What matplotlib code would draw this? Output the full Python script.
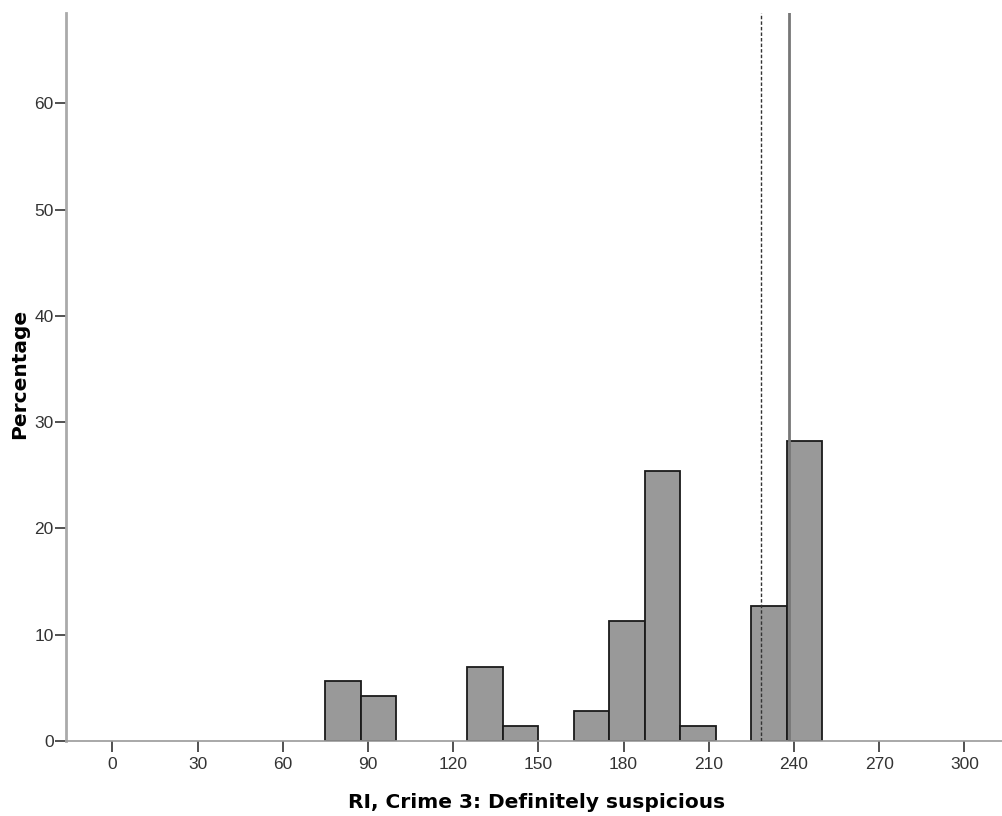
import matplotlib
matplotlib.use("Agg")
import matplotlib.pyplot as plt

# Histogram data (percent of cases per bin of 12.5)
bin_left = [75, 87.5, 125, 137.5, 162.5, 175, 187.5, 200, 225, 237.5]
percent = [5.6, 4.2, 7.0, 1.4, 2.8, 11.3, 25.4, 1.4, 12.7, 28.2]
bin_width = 12.5

# Reference lines
dashed_x = 228.4
solid_x = 238.3

x_ticks = [0, 30, 60, 90, 120, 150, 180, 210, 240, 270, 300]
y_ticks = [0, 10, 20, 30, 40, 50, 60]

plt.rcParams['font.family'] = ['Liberation Sans', 'DejaVu Sans']

fig = plt.figure(figsize=(10.03, 8.16), dpi=100)
ax = fig.add_axes([0.0658, 0.0919, 0.9342, 0.8921])

ax.bar(bin_left, percent, width=bin_width, align='edge',
       color='#999999', edgecolor='#1a1a1a', linewidth=1.3, zorder=2)

ax.axvline(dashed_x, color='#333333', linestyle=(0, (2.5, 1.5)), linewidth=1.0, zorder=3)
ax.axvline(solid_x, color='#777777', linewidth=2.0, zorder=3)

ax.set_xlim(-16.3, 313.6)
ax.set_ylim(0, 68.5)
ax.set_xticks(x_ticks)
ax.set_yticks(y_ticks)

for side in ['top', 'right']:
    ax.spines[side].set_visible(False)
ax.spines['left'].set_color('#aaaaaa')
ax.spines['left'].set_linewidth(2.0)
ax.spines['bottom'].set_color('#999999')
ax.spines['bottom'].set_linewidth(1.2)

ax.tick_params(axis='both', direction='out', length=8, width=1.1, color='#222222',
               labelsize=12.5, labelcolor='#333333')
ax.tick_params(axis='x', pad=3.5)
ax.tick_params(axis='y', pad=0.8)

ax.set_xlabel('RI, Crime 3: Definitely suspicious', fontsize=14.5, fontweight='bold',
              family='DejaVu Sans', va='center')
ax.xaxis.set_label_coords(0.502, -0.0838)
ax.set_ylabel('Percentage', fontsize=14.5, fontweight='bold',
              family='DejaVu Sans', va='center')
ax.yaxis.set_label_coords(-0.0491, 0.504)

fig.savefig('out.png', dpi=100)
